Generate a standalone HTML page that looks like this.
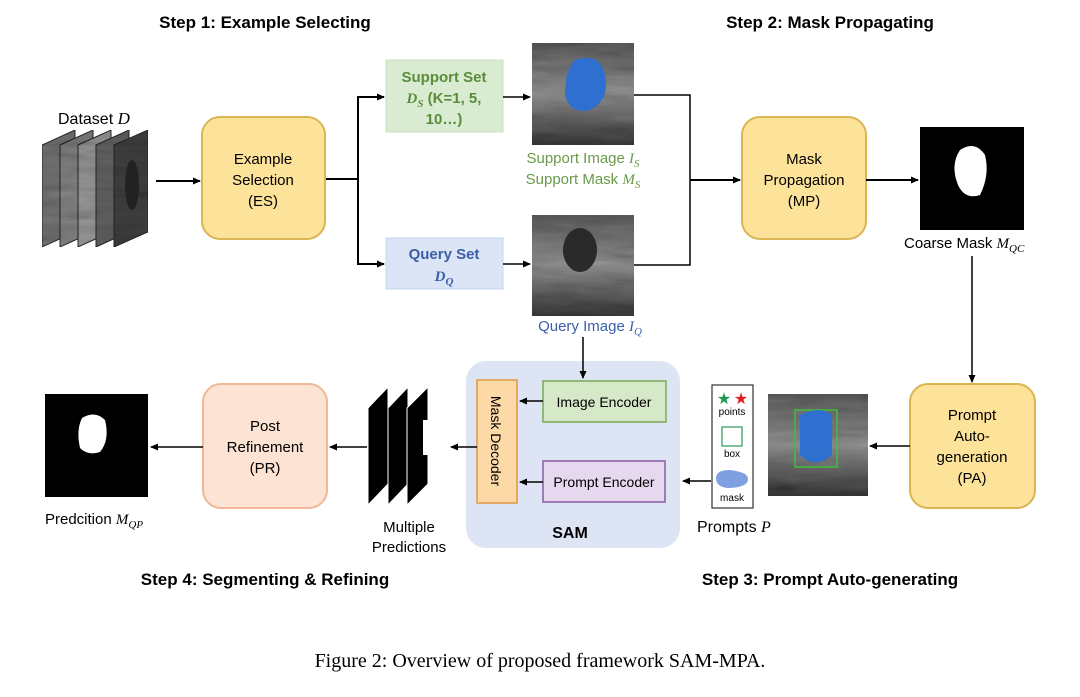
<!DOCTYPE html>
<html><head><meta charset="utf-8"><style>
html,body{margin:0;padding:0;background:#fff;}
svg{display:block;}
text{font-family:"Liberation Sans",sans-serif;}
.it{font-family:"Liberation Serif",serif;font-style:italic;}
</style></head><body>
<svg width="1080" height="697" viewBox="0 0 1080 697" xmlns="http://www.w3.org/2000/svg">
<defs>
<marker id="a" markerWidth="8" markerHeight="8" refX="7" refY="4" orient="auto" markerUnits="userSpaceOnUse"><path d="M0,0.5 L8,4 L0,7.5 Z" fill="#000"/></marker>
<linearGradient id="us" x1="0" y1="0" x2="0" y2="1"><stop offset="0" stop-color="#555"/><stop offset="0.5" stop-color="#888"/><stop offset="1" stop-color="#333"/></linearGradient>
<filter id="tex" x="0" y="0" width="1" height="1">
<feTurbulence type="fractalNoise" baseFrequency="0.02 0.12" numOctaves="3" seed="4" result="n"/>
<feColorMatrix in="n" type="matrix" values="0.33 0.33 0.33 0 0  0.33 0.33 0.33 0 0  0.33 0.33 0.33 0 0  0 0 0 1 0" result="g"/>
<feComposite in="g" in2="SourceGraphic" operator="in" result="c"/>
<feBlend in="c" in2="SourceGraphic" mode="overlay"/>
</filter>
</defs>
<rect width="1080" height="697" fill="#fff"/>
<g font-weight="bold" font-size="17" text-anchor="middle">
<text x="265" y="28">Step 1: Example Selecting</text>
<text x="830" y="28">Step 2: Mask Propagating</text>
<text x="265" y="585">Step 4: Segmenting &amp; Refining</text>
<text x="830" y="585">Step 3: Prompt Auto-generating</text>
</g>
<text x="58" y="124" font-size="16">Dataset <tspan class="it" font-size="17">D</tspan></text>
<g stroke="#222" stroke-width="1" filter="url(#tex)">
<polygon points="42,145 75,130 75,232 42,247" fill="#6a6a6a"/>
<polygon points="60,145 93,130 93,232 60,247" fill="#777"/>
<polygon points="78,145 111,130 111,232 78,247" fill="#8a8a8a"/>
<polygon points="96,145 129,130 129,232 96,247" fill="#5a5a5a"/>
<polygon points="114,145 148,130 148,232 114,247" fill="#3a3a3a"/>
</g>
<ellipse cx="132" cy="185" rx="7" ry="25" fill="#222"/>
<line x1="156" y1="181" x2="200" y2="181" stroke="#000" stroke-width="2" marker-end="url(#a)"/>
<rect x="202" y="117" width="123" height="122" rx="18" fill="#fde39a" stroke="#d9b652" stroke-width="2"/>
<g font-size="15" text-anchor="middle"><text x="263" y="164">Example</text><text x="263" y="185">Selection</text><text x="263" y="206">(ES)</text></g>
<path d="M326,179 H358 V97" fill="none" stroke="#000" stroke-width="2"/>
<path d="M358,179 V264" fill="none" stroke="#000" stroke-width="2"/>
<line x1="357" y1="97" x2="384" y2="97" stroke="#000" stroke-width="2" marker-end="url(#a)"/>
<line x1="357" y1="264" x2="384" y2="264" stroke="#000" stroke-width="2" marker-end="url(#a)"/>
<rect x="386" y="60" width="117" height="72" fill="#d9ecd2" stroke="#c8e0c0"/>
<g font-size="15" font-weight="bold" fill="#5b8c3a" text-anchor="middle">
<text x="444" y="82">Support Set</text>
<text x="444" y="103"><tspan class="it">D<tspan font-size="11" dy="4">S</tspan></tspan><tspan dy="-4"> (K=1, 5,</tspan></text>
<text x="444" y="124">10…)</text></g>
<rect x="386" y="238" width="117" height="51" fill="#dbe5f6" stroke="#c6d4ee"/>
<g font-size="15" font-weight="bold" fill="#3c5ea8" text-anchor="middle">
<text x="444" y="259">Query Set</text>
<text x="444" y="281" class="it">D<tspan font-size="11" dy="4">Q</tspan></text></g>
<line x1="503" y1="97" x2="530" y2="97" stroke="#000" stroke-width="1.5" marker-end="url(#a)"/>
<line x1="503" y1="264" x2="530" y2="264" stroke="#000" stroke-width="1.5" marker-end="url(#a)"/>
<rect x="532" y="43" width="102" height="102" fill="url(#us)" filter="url(#tex)"/>
<path d="M575,60 Q600,52 605,75 Q610,100 590,110 Q570,115 565,95 Q565,70 575,60Z" fill="#2f6fd0"/>
<rect x="532" y="215" width="102" height="101" fill="url(#us)" filter="url(#tex)"/>
<ellipse cx="580" cy="250" rx="17" ry="22" fill="#2a2a2a"/>
<g font-size="15" text-anchor="middle" fill="#6a9a4a">
<text x="583" y="163">Support Image <tspan class="it">I<tspan font-size="11" dy="4">S</tspan></tspan></text>
<text x="583" y="184">Support Mask <tspan class="it">M<tspan font-size="11" dy="4">S</tspan></tspan></text></g>
<text x="590" y="331" font-size="15" text-anchor="middle" fill="#3c5ea8">Query Image <tspan class="it">I<tspan font-size="11" dy="4">Q</tspan></tspan></text>
<path d="M634,95 H690 V265 H634" fill="none" stroke="#000" stroke-width="1.5"/>
<line x1="690" y1="180" x2="740" y2="180" stroke="#000" stroke-width="2" marker-end="url(#a)"/>
<rect x="742" y="117" width="124" height="122" rx="18" fill="#fde39a" stroke="#d9b652" stroke-width="2"/>
<g font-size="15" text-anchor="middle"><text x="804" y="164">Mask</text><text x="804" y="185">Propagation</text><text x="804" y="206">(MP)</text></g>
<line x1="866" y1="180" x2="918" y2="180" stroke="#000" stroke-width="2" marker-end="url(#a)"/>
<rect x="920" y="127" width="104" height="103" fill="#000"/>
<path d="M960,150 Q975,140 985,155 Q990,175 980,195 Q965,200 958,185 Q950,165 960,150Z" fill="#fff"/>
<text x="904" y="248" font-size="15">Coarse Mask <tspan class="it">M<tspan font-size="11" dy="4">QC</tspan></tspan></text>
<line x1="972" y1="256" x2="972" y2="382" stroke="#000" stroke-width="1.5" marker-end="url(#a)"/>
<rect x="910" y="384" width="125" height="124" rx="18" fill="#fde39a" stroke="#d9b652" stroke-width="2"/>
<g font-size="15" text-anchor="middle"><text x="972" y="420">Prompt</text><text x="972" y="441">Auto-</text><text x="972" y="462">generation</text><text x="972" y="483">(PA)</text></g>
<line x1="910" y1="446" x2="870" y2="446" stroke="#000" stroke-width="1.5" marker-end="url(#a)"/>
<rect x="768" y="394" width="100" height="102" fill="url(#us)" filter="url(#tex)"/>
<rect x="795" y="410" width="42" height="57" fill="none" stroke="#3fbf3f" stroke-width="1.5"/>
<path d="M800,415 Q820,405 832,415 L832,455 Q815,470 800,455Z" fill="#2f6fd0"/>
<rect x="712" y="385" width="41" height="123" fill="#fff" stroke="#333" stroke-width="1.2"/>
<text x="724" y="404" font-size="16" fill="#1a9a4a" text-anchor="middle">★</text>
<text x="741" y="404" font-size="16" fill="#e02020" text-anchor="middle">★</text>
<text x="732" y="415" font-size="10" text-anchor="middle">points</text>
<rect x="722" y="427" width="20" height="19" fill="none" stroke="#2a9a5a" stroke-width="1.2"/>
<text x="732" y="457" font-size="10" text-anchor="middle">box</text>
<path d="M716,478 Q716,470 730,470 Q748,472 748,479 Q748,487 730,488 Q716,488 716,478Z" fill="#7fa0e0"/>
<text x="732" y="501" font-size="10" text-anchor="middle">mask</text>
<text x="697" y="532" font-size="16">Prompts <tspan class="it">P</tspan></text>
<line x1="711" y1="481" x2="683" y2="481" stroke="#000" stroke-width="1.5" marker-end="url(#a)"/>
<rect x="466" y="361" width="214" height="187" rx="20" fill="#dde4f4"/>
<text x="570" y="538" font-size="16" font-weight="bold" text-anchor="middle">SAM</text>
<line x1="583" y1="337" x2="583" y2="378" stroke="#000" stroke-width="1.5" marker-end="url(#a)"/>
<rect x="543" y="381" width="123" height="41" fill="#d5e8c8" stroke="#7aaa55" stroke-width="1.5"/>
<text x="604" y="407" font-size="14" text-anchor="middle">Image Encoder</text>
<rect x="543" y="461" width="122" height="41" fill="#e6d8ee" stroke="#8a5aa6" stroke-width="1.5"/>
<text x="604" y="487" font-size="14" text-anchor="middle">Prompt Encoder</text>
<rect x="477" y="380" width="40" height="123" fill="#fdd9a8" stroke="#e09a40" stroke-width="1.5"/>
<text transform="translate(491,441) rotate(90)" font-size="14" text-anchor="middle">Mask Decoder</text>
<line x1="543" y1="401" x2="520" y2="401" stroke="#000" stroke-width="1.5" marker-end="url(#a)"/>
<line x1="543" y1="482" x2="520" y2="482" stroke="#000" stroke-width="1.5" marker-end="url(#a)"/>
<line x1="477" y1="447" x2="451" y2="447" stroke="#000" stroke-width="1.5" marker-end="url(#a)"/>
<polygon points="368,408 388,387 388,484 368,505" fill="#000" stroke="#fff"/>
<polygon points="388,408 408,387 408,484 388,505" fill="#000" stroke="#fff"/>
<polygon points="407,408 428,387 428,484 407,505" fill="#000" stroke="#fff"/>
<rect x="423" y="420" width="5" height="35" fill="#fff"/>
<text x="409" y="532" font-size="15" text-anchor="middle">Multiple</text>
<text x="409" y="552" font-size="15" text-anchor="middle">Predictions</text>
<line x1="367" y1="447" x2="330" y2="447" stroke="#000" stroke-width="1.5" marker-end="url(#a)"/>
<rect x="203" y="384" width="124" height="124" rx="18" fill="#fde3d3" stroke="#f0b896" stroke-width="2"/>
<g font-size="15" text-anchor="middle"><text x="265" y="431">Post</text><text x="265" y="452">Refinement</text><text x="265" y="473">(PR)</text></g>
<line x1="203" y1="447" x2="151" y2="447" stroke="#000" stroke-width="1.5" marker-end="url(#a)"/>
<rect x="45" y="394" width="103" height="103" fill="#000"/>
<path d="M82,418 Q95,410 105,420 Q110,440 100,452 Q88,456 80,448 Q76,430 82,418Z" fill="#fff"/>
<text x="45" y="524" font-size="15">Predcition <tspan class="it">M<tspan font-size="11" dy="4">QP</tspan></tspan></text>
<text x="540" y="667" font-size="20" text-anchor="middle" style="font-family:'Liberation Serif',serif">Figure 2: Overview of proposed framework SAM-MPA.</text>
</svg>
</body></html>
